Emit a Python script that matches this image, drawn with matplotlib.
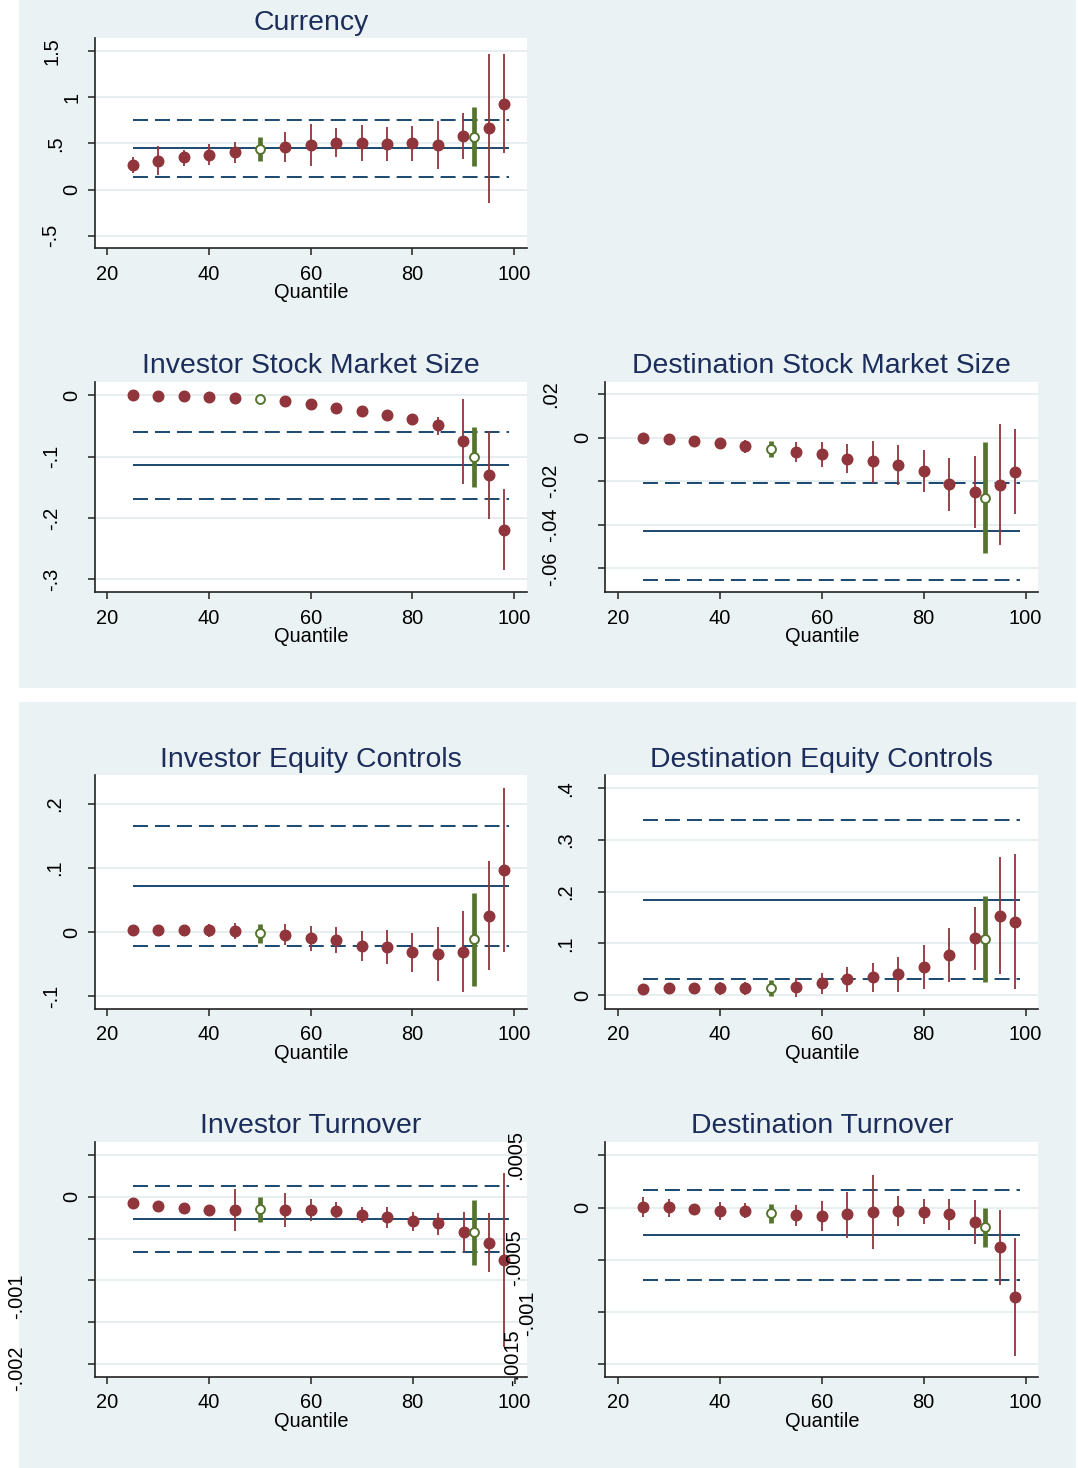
import matplotlib
matplotlib.use('Agg')
import matplotlib.pyplot as plt
from matplotlib.patches import Rectangle

W, H = 1078, 1468
plt.rcParams['font.family'] = ['Liberation Sans', 'DejaVu Sans']

# ---------------- data ----------------
quantiles = [25, 30, 35, 40, 45, 55, 60, 65, 70, 75, 80, 85, 90, 95, 98]
green_x = [50, 92]
xticks = [20, 40, 60, 80, 100]

# Currency
cur_est = [0.267, 0.314, 0.347, 0.379, 0.404, 0.462, 0.484, 0.509, 0.502, 0.491, 0.502, 0.484, 0.581, 0.664, 0.931]
cur_lo = [0.184, 0.159, 0.256, 0.271, 0.292, 0.300, 0.256, 0.350, 0.310, 0.310, 0.314, 0.220, 0.329, -0.148, 0.394]
cur_hi = [0.350, 0.473, 0.430, 0.491, 0.513, 0.625, 0.711, 0.668, 0.700, 0.679, 0.690, 0.747, 0.827, 1.469, 1.469]
cur_g_est = [0.444, 0.574]
cur_g_lo = [0.314, 0.256]
cur_g_hi = [0.567, 0.888]
cur_line = 0.448
cur_band = [0.141, 0.755]
cur_yticks = [-0.5, 0, 0.5, 1, 1.5]
cur_ylabels = ['-.5', '0', '.5', '1', '1.5']

# Investor Stock Market Size
ism_est = [0.0, -0.0005, -0.0016, -0.0027, -0.0038, -0.0087, -0.0136, -0.0201, -0.0250, -0.0315, -0.0386, -0.0489, -0.0750, -0.1293, -0.2190]
ism_lo = [-0.002, -0.0025, -0.0036, -0.0047, -0.0060, -0.0110, -0.0160, -0.0225, -0.0275, -0.0340, -0.0420, -0.0647, -0.1450, -0.2022, -0.2848]
ism_hi = [0.002, 0.0015, 0.0004, -0.0007, -0.0016, -0.0064, -0.0112, -0.0177, -0.0225, -0.0290, -0.0352, -0.0348, -0.0060, -0.0576, -0.1533]
ism_g_est = [-0.0054, -0.100]
ism_g_lo = [-0.0080, -0.150]
ism_g_hi = [-0.0030, -0.0511]
ism_line = -0.1141
ism_band = [-0.169, -0.0592]
ism_yticks = [-0.3, -0.2, -0.1, 0]
ism_ylabels = ['-.3', '-.2', '-.1', '0']

# Destination Stock Market Size
dsm_est = [-0.0002, -0.0006, -0.0014, -0.0024, -0.0038, -0.0066, -0.0077, -0.0096, -0.0109, -0.0125, -0.0153, -0.0214, -0.0248, -0.0217, -0.0156]
dsm_lo = [-0.0012, -0.0016, -0.0024, -0.0038, -0.0069, -0.0110, -0.0136, -0.0164, -0.0207, -0.0217, -0.0248, -0.0335, -0.0413, -0.0494, -0.0352]
dsm_hi = [0.0008, 0.0004, -0.0004, -0.0011, -0.0011, -0.0018, -0.0018, -0.0028, -0.0015, -0.0035, -0.0058, -0.0095, -0.0083, 0.0061, 0.0038]
dsm_g_est = [-0.0050, -0.0275]
dsm_g_lo = [-0.0087, -0.0531]
dsm_g_hi = [-0.0015, -0.0021]
dsm_line = -0.0428
dsm_band = [-0.0652, -0.0207]
dsm_yticks = [-0.06, -0.04, -0.02, 0, 0.02]
dsm_ylabels = ['-.06', '-.04', '-.02', '0', '.02']

# Investor Equity Controls
iec_est = [0.0031, 0.0031, 0.0031, 0.0026, 0.0016, -0.0047, -0.0099, -0.0125, -0.0213, -0.0228, -0.0317, -0.0342, -0.0306, 0.0254, 0.0965]
iec_lo = [-0.002, -0.002, -0.002, -0.0073, -0.0114, -0.0208, -0.0291, -0.0332, -0.0451, -0.0498, -0.0628, -0.0758, -0.0929, -0.0592, -0.0311]
iec_hi = [0.008, 0.008, 0.008, 0.0119, 0.0135, 0.0125, 0.0093, 0.0083, 0.0021, 0.0031, -0.0021, 0.0083, 0.0332, 0.1100, 0.2237]
iec_g_est = [-0.0021, -0.0104]
iec_g_lo = [-0.0166, -0.0836]
iec_g_hi = [0.0119, 0.0612]
iec_line = 0.0721
iec_band = [-0.0213, 0.1655]
iec_yticks = [-0.1, 0, 0.1, 0.2]
iec_ylabels = ['-.1', '0', '.1', '.2']

# Destination Equity Controls
dec_est = [0.0110, 0.0129, 0.0129, 0.0129, 0.0129, 0.0148, 0.0239, 0.0303, 0.0342, 0.0406, 0.0542, 0.0781, 0.1097, 0.1535, 0.1419]
dec_lo = [0.007, 0.009, 0.009, 0.0, 0.0, -0.0045, 0.0019, 0.0058, 0.0065, 0.0065, 0.0123, 0.0258, 0.0484, 0.0406, 0.0110]
dec_hi = [0.015, 0.017, 0.017, 0.0245, 0.0245, 0.0323, 0.0432, 0.0535, 0.0626, 0.0742, 0.0968, 0.1290, 0.1710, 0.2665, 0.2729]
dec_g_est = [0.0135, 0.1084]
dec_g_lo = [-0.0013, 0.0245]
dec_g_hi = [0.0290, 0.1916]
dec_line = 0.1839
dec_band = [0.0310, 0.3381]
dec_yticks = [0, 0.1, 0.2, 0.3, 0.4]
dec_ylabels = ['0', '.1', '.2', '.3', '.4']

# Investor Turnover
itu_est = [-0.00008, -0.000112, -0.000132, -0.000159, -0.000159, -0.000159, -0.000159, -0.000167, -0.000215, -0.000243, -0.000287, -0.000319, -0.000427, -0.000550, -0.000758]
itu_lo = [-0.00012, -0.00015, -0.00017, -0.00020, -0.000411, -0.000367, -0.000287, -0.000267, -0.000311, -0.000371, -0.000411, -0.000459, -0.000658, -0.000905, -0.001794]
itu_hi = [-0.00004, -0.00007, -0.00009, -0.00012, 0.0000877, 0.0000399, -0.0000279, -0.0000678, -0.00012, -0.000128, -0.000179, -0.000199, -0.000187, -0.000199, 0.000287]
itu_g_est = [-0.000152, -0.000427]
itu_g_lo = [-0.000303, -0.000817]
itu_g_hi = [-0.000008, -0.0000399]
itu_line = -0.000267
itu_band = [-0.000666, 0.000124]
itu_yticks = [-0.002, -0.0015, -0.001, -0.0005, 0, 0.0005]
itu_ylabels = ['', '', '', '', '0', '']

# Destination Turnover
dtu_est = [0.000003, 0.000003, -0.000016, -0.000035, -0.000029, -0.000070, -0.000077, -0.000064, -0.000041, -0.000029, -0.000041, -0.000064, -0.000134, -0.000380, -0.000855]
dtu_lo = [-0.0000925, -0.0000861, -0.0000415, -0.000118, -0.000102, -0.000175, -0.00022, -0.000293, -0.000396, -0.000172, -0.00016, -0.000214, -0.000348, -0.00074, -0.00142]
dtu_hi = [0.0000989, 0.0000829, 0.0000096, 0.000051, 0.0000415, 0.0000255, 0.0000638, 0.000153, 0.000313, 0.000112, 0.0000798, 0.0000798, 0.0000734, -0.0000223, -0.000293]
dtu_g_est = [-0.0000542, -0.000188]
dtu_g_lo = [-0.00015, -0.000376]
dtu_g_hi = [0.0000319, 0.0]
dtu_line = -0.000262
dtu_band = [-0.000692, 0.000166]
dtu_yticks = [-0.0015, -0.001, -0.0005, 0, 0.0005]
dtu_ylabels = ['', '', '', '0', '']

# misplaced tick labels drawn loose on the figure (text, x px, y px)
stray_labels = [('-.001', 17, 1296), ('-.002', 17, 1368),
                ('.0005', 516, 1155), ('-.0005', 515, 1258),
                ('-.001', 528, 1313), ('-.0015', 513, 1358)]

# ---------------- style ----------------
BG = '#EAF2F3'
GRID = '#E4EDEF'
NAVY = '#1A476F'
MAROON = '#90353B'
GREEN = '#55752F'
TITLE_C = '#1C2D5C'
PT = 0.72  # points per pixel at dpi 100
FS = 14.4
TFS = 20.4

label_offset = {'0': 22.5, '1': 22.5, '.5': 39.5, '1.5': 42.7, '-.5': 43.7,
                '-.1': 43, '-.2': 43, '-.3': 43, '.1': 39.7, '.2': 39.7,
                '.3': 39.7, '.4': 39.7, '.02': 55, '-.02': 55, '-.04': 55, '-.06': 55}

fig = plt.figure(figsize=(W / 100, H / 100), dpi=100)
fig.patch.set_facecolor('white')
fig.add_artist(Rectangle((19 / W, 1 - 688 / H), (1076 - 19) / W, 688 / H,
                         transform=fig.transFigure, facecolor=BG, edgecolor='none', zorder=0))
fig.add_artist(Rectangle((19 / W, 0), (1076 - 19) / W, (1468 - 702) / H,
                         transform=fig.transFigure, facecolor=BG, edgecolor='none', zorder=0))


def panel(box, title, est, lo, hi, gest, glo, ghi, line, band, yticks, ylabels, ylim):
    l, t, r, b = box
    ax = fig.add_axes([l / W, 1 - b / H, (r - l) / W, (b - t) / H])
    ax.set_facecolor('white')
    ax.set_xlim(17.5, 102.5)
    ax.set_ylim(*ylim)
    for v in yticks:
        ax.axhline(v, color=GRID, lw=1.3, zorder=0.5)
    ax.hlines(line, 25, 99, color=NAVY, lw=1.4, zorder=2)
    for v in band:
        ln = ax.hlines(v, 25, 99, color=NAVY, lw=1.4, zorder=2)
        ln.set_linestyle((0, (7.7, 3.6)))
    ax.vlines(quantiles, lo, hi, color=MAROON, lw=1.3, zorder=3)
    ax.plot(quantiles, est, 'o', ms=7.6, color=MAROON, mec=MAROON, zorder=4)
    ax.vlines(green_x, glo, ghi, color=GREEN, lw=3.4, zorder=3)
    ax.plot(green_x, gest, 'o', ms=6.4, mfc='white', mec=GREEN, mew=1.4, zorder=5)

    for s in ['top', 'right']:
        ax.spines[s].set_visible(False)
    for s in ['left', 'bottom']:
        ax.spines[s].set_color('#222222')
        ax.spines[s].set_linewidth(1.2)
    ax.set_yticks(yticks)
    ax.set_yticklabels([])
    ax.set_xticks(xticks)
    ax.set_xticklabels([])
    ax.tick_params(axis='both', direction='out', length=5, width=1.1, color='#222222')

    for v, s in zip(yticks, ylabels):
        if not s:
            continue
        off = label_offset.get(s, 23)
        ax.annotate(s, xy=(0, v), xycoords=('axes fraction', 'data'),
                    xytext=(-off * PT, 0), textcoords='offset points',
                    rotation=90, ha='center', va='center', fontsize=FS, color='black')
    for v in xticks:
        ax.annotate(str(v), xy=(v, 0), xycoords=('data', 'axes fraction'),
                    xytext=(0, -31.7 * PT), textcoords='offset points',
                    ha='center', va='baseline', fontsize=FS, color='black')
    cx = (l + r) / 2 / W
    fig.text(cx, 1 - (b + 50) / H, 'Quantile', ha='center', va='baseline', fontsize=FS, color='black')
    fig.text(cx, 1 - (t - 8.3) / H, title, ha='center', va='baseline', fontsize=TFS, color=TITLE_C)
    return ax


panel((94.7, 38.3, 526.9, 248.3), 'Currency', cur_est, cur_lo, cur_hi,
      cur_g_est, cur_g_lo, cur_g_hi, cur_line, cur_band, cur_yticks, cur_ylabels, (-0.636, 1.637))
panel((94.7, 381.7, 526.9, 592.3), 'Investor Stock Market Size', ism_est, ism_lo, ism_hi,
      ism_g_est, ism_g_lo, ism_g_hi, ism_line, ism_band, ism_yticks, ism_ylabels, (-0.3212, 0.0223))
panel((605.2, 381.7, 1038.3, 592.3), 'Destination Stock Market Size', dsm_est, dsm_lo, dsm_hi,
      dsm_g_est, dsm_g_lo, dsm_g_hi, dsm_line, dsm_band, dsm_yticks, dsm_ylabels, (-0.071, 0.0257))
panel((94.7, 775, 526.9, 1008.7), 'Investor Equity Controls', iec_est, iec_lo, iec_hi,
      iec_g_est, iec_g_lo, iec_g_hi, iec_line, iec_band, iec_yticks, iec_ylabels, (-0.1194, 0.2444))
panel((605.2, 775, 1038.3, 1008.7), 'Destination Equity Controls', dec_est, dec_lo, dec_hi,
      dec_g_est, dec_g_lo, dec_g_hi, dec_line, dec_band, dec_yticks, dec_ylabels, (-0.0265, 0.4258))
panel((94.5, 1141.7, 527.3, 1376.7), 'Investor Turnover', itu_est, itu_lo, itu_hi,
      itu_g_est, itu_g_lo, itu_g_hi, itu_line, itu_band, itu_yticks, itu_ylabels, (-0.002153, 0.000658))
panel((605.2, 1141.7, 1038.3, 1376.7), 'Destination Turnover', dtu_est, dtu_lo, dtu_hi,
      dtu_g_est, dtu_g_lo, dtu_g_hi, dtu_line, dtu_band, dtu_yticks, dtu_ylabels, (-0.001617, 0.000632))

for s, x, y in stray_labels:
    fig.text(x / W, 1 - y / H, s, rotation=90, ha='center', va='center',
             fontsize=FS, color='black', zorder=10)

fig.savefig('out.png', dpi=100, facecolor='white')
